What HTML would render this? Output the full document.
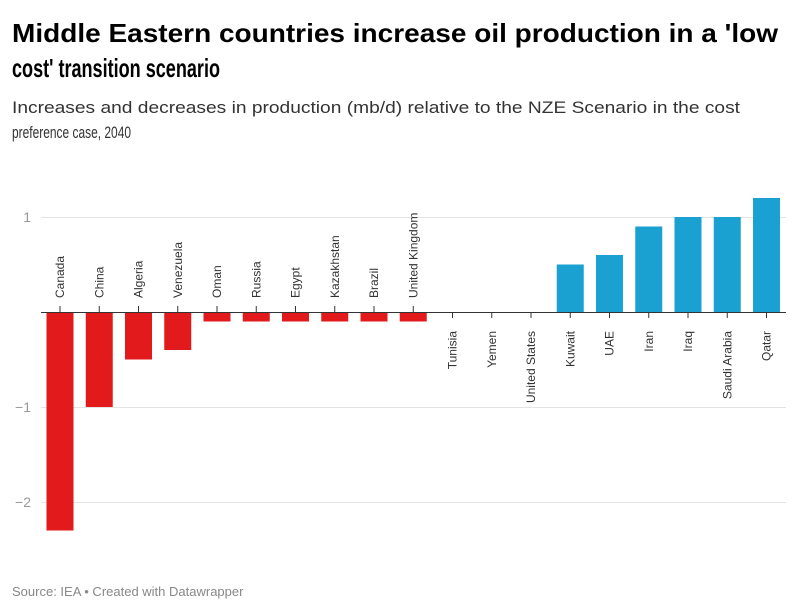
<!DOCTYPE html>
<html><head><style>body{margin:0;background:#fff}svg{display:block}</style></head>
<body>
<svg width="800" height="615" xmlns="http://www.w3.org/2000/svg" font-family="Liberation Sans, sans-serif">
<text x="12" y="42" font-size="26" font-weight="bold" fill="#000" textLength="766" lengthAdjust="spacingAndGlyphs">Middle Eastern countries increase oil production in a 'low</text>
<text x="12" y="77" font-size="26" font-weight="bold" fill="#000" textLength="208" lengthAdjust="spacingAndGlyphs">cost' transition scenario</text>
<text x="12" y="113" font-size="17" fill="#333" textLength="728" lengthAdjust="spacingAndGlyphs">Increases and decreases in production (mb/d) relative to the NZE Scenario in the cost</text>
<text x="12" y="138" font-size="17" fill="#333" textLength="119" lengthAdjust="spacingAndGlyphs">preference case, 2040</text>
<g stroke="#e3e3e3" stroke-width="1">
<line x1="41" x2="786" y1="217.5" y2="217.5"/>
<line x1="41" x2="786" y1="407.5" y2="407.5"/>
<line x1="41" x2="786" y1="502.5" y2="502.5"/>
</g>
<g font-size="14" fill="#999" text-anchor="end">
<text x="31" y="222">1</text>
<text x="31" y="412">−1</text>
<text x="31" y="507">−2</text>
</g>
<g fill="#e31a1c">
<rect x="46.5" y="312" width="27" height="218.5"/>
<rect x="85.75" y="312" width="27" height="95"/>
<rect x="125" y="312" width="27" height="47.5"/>
<rect x="164.25" y="312" width="27" height="38"/>
<rect x="203.5" y="312" width="27" height="9.5"/>
<rect x="242.75" y="312" width="27" height="9.5"/>
<rect x="282" y="312" width="27" height="9.5"/>
<rect x="321.25" y="312" width="27" height="9.5"/>
<rect x="360.5" y="312" width="27" height="9.5"/>
<rect x="399.75" y="312" width="27" height="9.5"/>
</g>
<g fill="#1aa1d1">
<rect x="556.75" y="264.5" width="27" height="47.5"/>
<rect x="596" y="255" width="27" height="57"/>
<rect x="635.25" y="226.5" width="27" height="85.5"/>
<rect x="674.5" y="217" width="27" height="95"/>
<rect x="713.75" y="217" width="27" height="95"/>
<rect x="753" y="198" width="27" height="114"/>
</g>
<line x1="41" x2="786" y1="312.5" y2="312.5" stroke="#333" stroke-width="1"/>
<g stroke="#333" stroke-width="1">
<line x1="60" x2="60" y1="306" y2="312"/>
<line x1="99.25" x2="99.25" y1="306" y2="312"/>
<line x1="138.5" x2="138.5" y1="306" y2="312"/>
<line x1="177.75" x2="177.75" y1="306" y2="312"/>
<line x1="217" x2="217" y1="306" y2="312"/>
<line x1="256.25" x2="256.25" y1="306" y2="312"/>
<line x1="295.5" x2="295.5" y1="306" y2="312"/>
<line x1="334.75" x2="334.75" y1="306" y2="312"/>
<line x1="374" x2="374" y1="306" y2="312"/>
<line x1="413.25" x2="413.25" y1="306" y2="312"/>
<line x1="452.5" x2="452.5" y1="312" y2="318"/>
<line x1="491.75" x2="491.75" y1="312" y2="318"/>
<line x1="531" x2="531" y1="312" y2="318"/>
<line x1="570.25" x2="570.25" y1="312" y2="318"/>
<line x1="609.5" x2="609.5" y1="312" y2="318"/>
<line x1="648.75" x2="648.75" y1="312" y2="318"/>
<line x1="688" x2="688" y1="312" y2="318"/>
<line x1="727.25" x2="727.25" y1="312" y2="318"/>
<line x1="766.5" x2="766.5" y1="312" y2="318"/>
</g>
<g font-size="12" fill="#333">
<text transform="translate(64,298) rotate(-90)">Canada</text>
<text transform="translate(103.25,298) rotate(-90)">China</text>
<text transform="translate(142.5,298) rotate(-90)">Algeria</text>
<text transform="translate(181.75,298) rotate(-90)">Venezuela</text>
<text transform="translate(221,298) rotate(-90)">Oman</text>
<text transform="translate(260.25,298) rotate(-90)">Russia</text>
<text transform="translate(299.5,298) rotate(-90)">Egypt</text>
<text transform="translate(338.75,298) rotate(-90)">Kazakhstan</text>
<text transform="translate(378,298) rotate(-90)">Brazil</text>
<text transform="translate(417.25,298) rotate(-90)">United Kingdom</text>
</g>
<g font-size="12" fill="#333" text-anchor="end">
<text transform="translate(456.5,331) rotate(-90)">Tunisia</text>
<text transform="translate(495.75,331) rotate(-90)">Yemen</text>
<text transform="translate(535,331) rotate(-90)">United States</text>
<text transform="translate(574.25,331) rotate(-90)">Kuwait</text>
<text transform="translate(613.5,331) rotate(-90)">UAE</text>
<text transform="translate(652.75,331) rotate(-90)">Iran</text>
<text transform="translate(692,331) rotate(-90)">Iraq</text>
<text transform="translate(731.25,331) rotate(-90)">Saudi Arabia</text>
<text transform="translate(770.5,331) rotate(-90)">Qatar</text>
</g>
<text x="12" y="596" font-size="13" fill="#888">Source: IEA  • Created with Datawrapper</text>
</svg>
</body></html>
